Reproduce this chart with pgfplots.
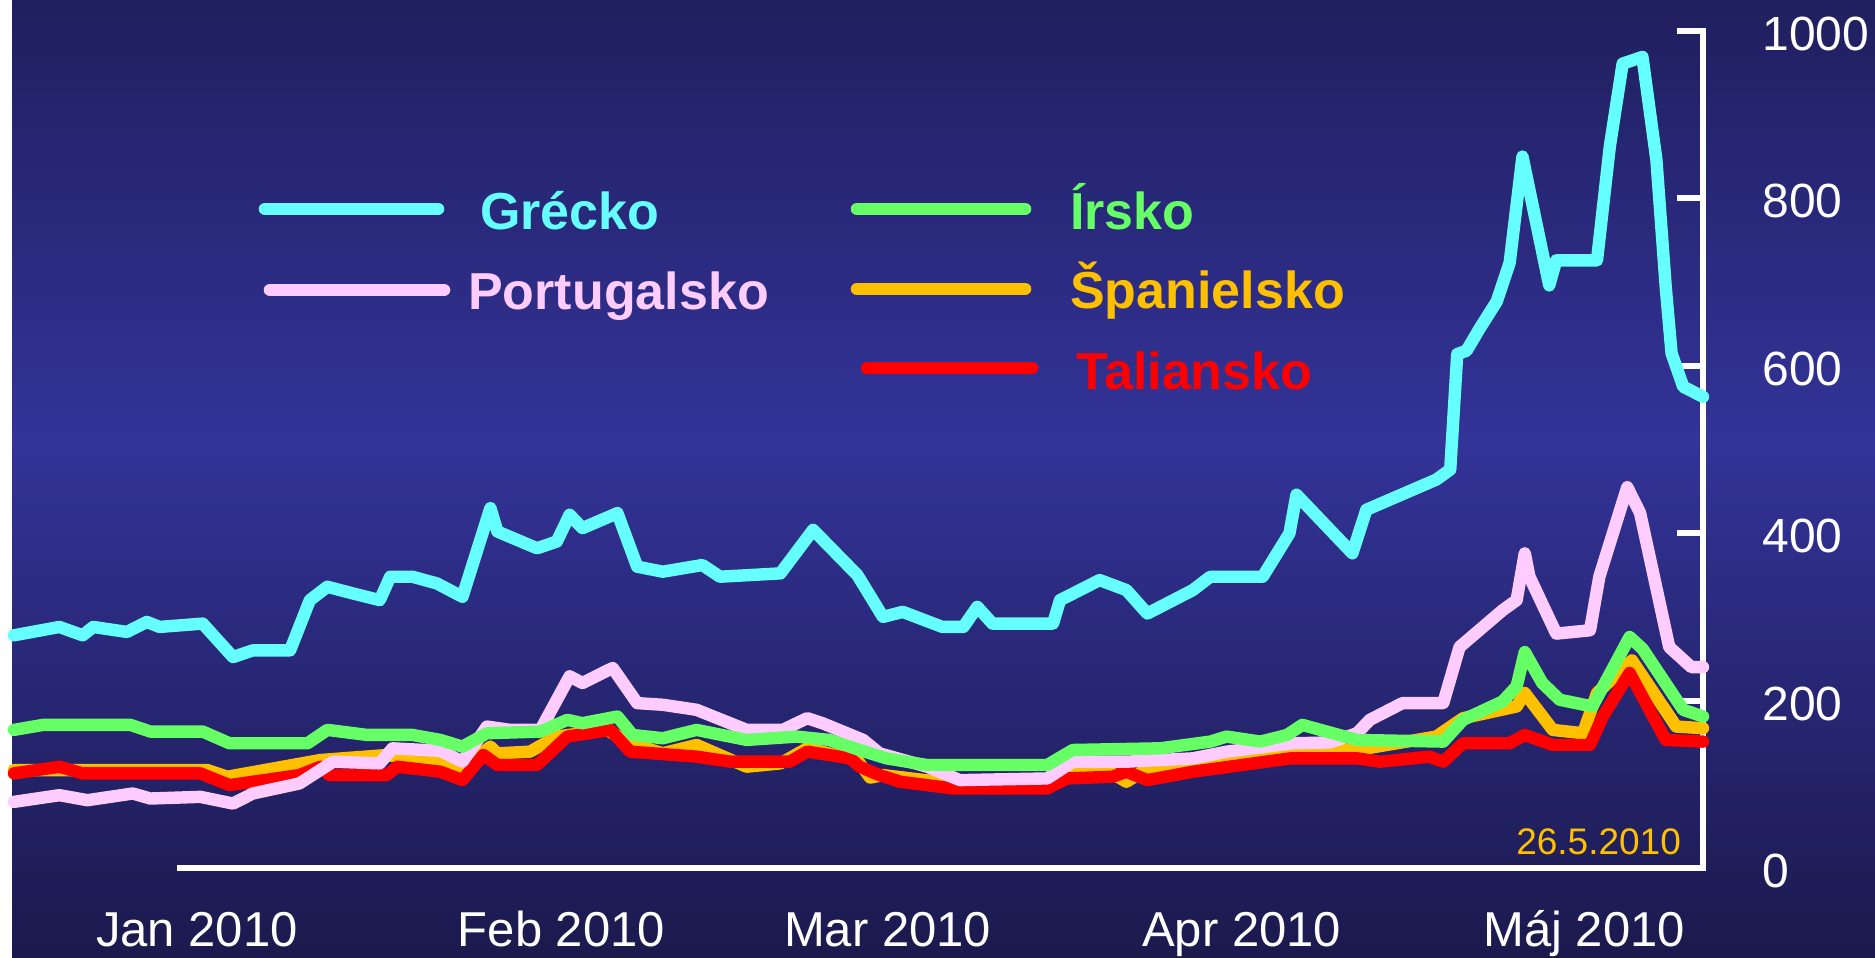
\documentclass[border=0pt]{standalone}
\usepackage{pgfplots}
\pgfplotsset{compat=1.18}
\usepackage{fontspec}
\setmainfont{Liberation Sans}
\definecolor{bgtop}{RGB}{32,31,94}
\definecolor{bgmid}{RGB}{51,51,153}
\definecolor{bgbot}{RGB}{27,25,76}
\definecolor{grc}{RGB}{102,255,255}
\definecolor{prt}{RGB}{255,204,255}
\definecolor{irl}{RGB}{102,255,102}
\definecolor{esp}{RGB}{255,192,0}
\definecolor{ita}{RGB}{255,0,0}

\pgfplotstableread{
d v
0 278
3.9 288
5.9 278
6.8 288
9.7 282
11.4 294
12.5 288
16.2 292
18.8 252
20.5 260
23.7 260
25.4 320
26.9 336
29.1 328
31.4 320
32.3 348
34.2 348
36.3 340
38.5 324
40.9 430
41.5 402
44.9 382
46.6 390
47.7 422
48.8 406
51.8 424
53.5 360
55.7 354
59.1 362
60.6 348
65.8 352
68.6 404
72.4 350
73.5 325
74.6 300
76.3 306
79.7 288
81.5 288
82.7 312
84.0 292
89.2 292
89.8 320
93.2 344
95.5 332
97.3 304
101.2 332
102.7 348
107.2 348
109.5 400
110.1 446
114.9 376
116.1 428
118.1 440
122.1 464
123.3 476
123.9 614
124.7 618
125.8 644
127.3 677
128.4 723
129.5 850
131.8 696
132.4 726
135.9 726
137.0 862
138.1 961
139.8 969
141.0 846
141.8 694
142.3 615
143.3 575
145.0 563
}\grecko

\pgfplotstableread{
d v
0 79
3.9 87
6.3 81
10.2 89
11.7 83
16.0 85
18.8 77
20.5 89
24.5 101
27.4 127
31.4 125
32.5 143
36.6 140
38.5 127
40.6 169
42.6 165
45.2 165
47.7 229
48.8 221
51.4 239
53.5 197
55.7 195
58.6 189
62.9 165
66.0 165
68.1 179
69.4 173
72.9 153
74.3 137
78.4 121
81.2 105
88.7 107
90.9 127
95.5 127
101.2 131
104.1 139
109.8 149
113.0 150
115.3 161
116.4 177
119.2 197
122.7 197
124.1 264
127.8 308
129.0 320
129.7 376
130.1 348
132.4 280
135.3 284
136.1 348
138.5 455
139.6 424
142.1 264
144.0 240
145.0 240
}\portugal

\pgfplotstableread{
d v
0 165
2.5 171
10.0 171
11.7 163
16.2 163
18.5 149
25.2 149
26.9 165
30.3 159
34.2 159
36.6 153
38.5 145
40.6 161
45.2 163
47.5 177
48.8 173
51.8 181
53.1 159
55.7 155
58.6 165
62.9 153
67.2 157
70.0 153
72.6 141
74.9 131
78.4 123
88.7 123
90.9 141
98.4 143
102.7 151
104.1 157
107.0 151
109.3 159
110.6 171
115.3 153
122.7 151
124.4 177
127.8 199
129.0 217
129.7 258
131.2 221
132.7 201
135.5 193
138.7 276
139.8 262
143.3 189
145.0 181
}\irsko

\pgfplotstableread{
d v
0 117
16.6 117
18.3 109
26.3 129
32.0 135
32.9 133
36.6 127
38.5 120
40.9 145
41.5 137
44.3 139
46.6 157
50.9 165
52.9 149
55.7 137
58.6 147
62.9 121
65.8 125
68.1 143
72.4 129
73.5 108
74.6 111
80.6 101
88.7 101
90.9 115
93.8 117
95.5 103
97.3 119
104.1 129
109.8 141
115.3 141
122.1 157
124.4 179
129.0 193
129.7 209
132.1 165
134.7 161
135.9 209
138.9 248
142.7 169
145.0 167
}\spanielsko

\pgfplotstableread{
d v
0 113
3.9 121
5.9 113
16.0 113
18.5 99
24.5 111
26.3 121
27.1 111
32.0 111
32.9 121
36.6 115
38.5 105
40.3 135
41.5 123
44.9 123
47.5 157
51.2 165
52.9 139
58.6 133
61.5 127
66.6 127
68.1 139
71.8 131
72.6 121
74.3 111
76.1 103
80.6 95
88.7 95
90.4 107
94.3 109
95.5 115
97.3 105
101.2 115
109.6 131
115.3 131
117.3 127
121.5 133
122.7 127
124.4 149
128.4 149
129.7 159
132.1 147
135.3 147
136.4 181
138.7 233
141.8 153
145.0 151
}\taliansko

\begin{document}
\begin{tikzpicture}
\useasboundingbox (0,0) rectangle (937.5pt,479pt);
\begin{scope}[x=0.5pt,y=-0.5pt,yshift=479pt]
  \fill[white] (0,0) rectangle (12,958);
  \shade[top color=bgtop, bottom color=bgmid] (12,0) rectangle (1875,441);
  \shade[top color=bgmid, bottom color=bgbot] (12,440) rectangle (1875,958);
\end{scope}
\begin{axis}[
  at={(7pt,45pt)}, anchor=south west,
  scale only axis, width=844.5pt, height=418.5pt,
  xmin=0, xmax=145, ymin=0, ymax=1000,
  clip=false,
  axis line style={draw=none},
  tick style={draw=none},
  xtick={15.7,47,75,105.4,134.8},
  xticklabels={Jan 2010, Feb 2010, Mar 2010, Apr 2010, Máj 2010},
  ytick={0,200,400,600,800,1000},
  yticklabels={0,200,400,600,800,1000},
  yticklabel pos=right,
  xticklabel style={font=\fontsize{24.5}{28}\selectfont, text=white, anchor=base, inner sep=0pt, yshift=-39.5pt},
  yticklabel style={font=\fontsize{24}{28}\selectfont, text=white, anchor=west, inner sep=0pt, xshift=29.5pt, yshift=-1.5pt},
  every axis plot/.append style={line join=round, line cap=round, line width=6.2pt},
]
\draw[white, line width=3pt] (axis cs:14,0) -- (axis cs:145,0) -- (axis cs:145,1000) -- ++(-13pt,0);
\draw[white, line width=3pt] (axis cs:145,200) -- ++(-13pt,0);
\draw[white, line width=3pt] (axis cs:145,400) -- ++(-13pt,0);
\draw[white, line width=3pt] (axis cs:145,600) -- ++(-13pt,0);
\draw[white, line width=3pt] (axis cs:145,800) -- ++(-13pt,0);
\addplot[grc] table[x=d, y=v] {\grecko};
\addplot[esp] table[x=d, y=v] {\spanielsko};
\addplot[ita] table[x=d, y=v] {\taliansko};
\addplot[prt] table[x=d, y=v] {\portugal};
\addplot[irl] table[x=d, y=v] {\irsko};
\end{axis}
\begin{scope}[x=0.5pt,y=-0.5pt,yshift=479pt, line cap=round, line width=6.3pt,
  lab/.style={anchor=base west, inner sep=0pt, font=\bfseries\fontsize{26}{30}\selectfont}]
  \draw[grc] (265,209) -- (438,209);
  \node[lab, text=grc] at (474,230) {Grécko};
  \draw[prt] (270,290) -- (444,290);
  \node[lab, text=prt] at (462,310) {Portugalsko};
  \draw[irl] (857,209) -- (1025,209);
  \node[lab, text=irl] at (1064,230) {Írsko};
  \draw[esp] (857,289) -- (1025,289);
  \node[lab, text=esp] at (1064,309) {Španielsko};
  \draw[ita] (867,368) -- (1032,368);
  \node[lab, text=ita] at (1070,390) {Taliansko};
  \node[anchor=base west, inner sep=0pt, text=esp, font=\fontsize{18.5}{22}\selectfont] at (1510,855) {26.5.2010};
\end{scope}
\end{tikzpicture}
\end{document}
